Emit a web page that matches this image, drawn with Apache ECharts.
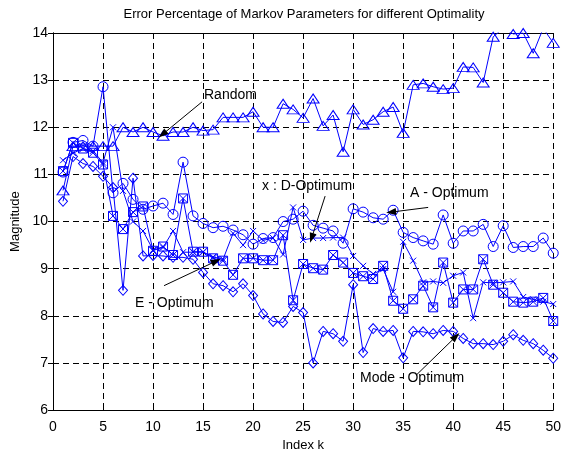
<!DOCTYPE html>
<html><head><meta charset="utf-8">
<script src="https://cdn.jsdelivr.net/npm/echarts@6/dist/echarts.min.js"></script>
<style>html,body{margin:0;padding:0;background:#fff}#c{width:564px;height:457px}</style>
</head><body><div id="c"></div>
<script>
const indexK = [1,2,3,4,5,6,7,8,9,10,11,12,13,14,15,16,17,18,19,20,21,22,23,24,25,26,27,28,29,30,31,32,33,34,35,36,37,38,39,40,41,42,43,44,45,46,47,48,49,50];
const randomVals = [10.66,11.6,11.6,11.6,11.6,11.6,12.0,11.9,12.0,11.9, 11.82,11.9,11.9,12.0,11.93,11.95,12.21,12.21,12.21,12.33, 12.0,12.0,12.5,12.38,12.2,12.61,12.03,12.26,11.48,12.38, 12.06,12.16,12.33,12.43,11.88,12.9,12.93,12.86,12.81,12.83, 13.28,13.27,12.95,13.92,14.1,13.98,14.0,13.57,14.1,13.79];
const aOptVals = [11.05,11.68,11.72,11.6,12.86,10.61,10.81,10.47,10.26,10.33, 10.39,10.15,11.26,10.12,9.96,9.87,9.9,9.82,9.72,9.52, 9.64,9.66,10.0,10.05,10.22,9.92,9.86,9.8,9.54,10.27, 10.2,10.08,10.05,10.24,9.77,9.66,9.59,9.52,10.14,9.54, 9.8,9.8,9.94,9.47,9.91,9.45,9.47,9.47,9.65,9.33];
const eOptVals = [11.07,11.67,11.55,11.46,11.21,10.12,9.84,10.2,10.32,9.38, 9.47,9.29,10.49,9.36,9.36,9.22,9.17,8.87,9.22,9.22, 9.18,9.18,9.71,8.33,9.1,9.01,8.98,9.29,9.13,8.91, 8.84,8.78,9.06,8.32,8.15,8.35,8.64,8.18,9.13,8.28, 8.56,8.56,9.2,8.66,8.49,8.3,8.28,8.3,8.38,7.89];
const dOptVals = [11.3,11.45,11.55,11.5,11.25,12.0,10.65,10.0,9.8,9.4, 9.45,9.8,9.35,9.35,9.35,9.25,9.2,9.75,9.5,9.8, 9.6,9.65,9.3,10.3,9.61,9.65,9.65,9.66,9.66,9.27, 9.06,8.89,8.99,8.51,9.57,9.17,8.71,8.73,8.7,8.85, 8.92,7.95,8.71,8.7,8.71,8.73,8.4,8.35,8.3,8.25];
const modeOptVals = [10.43,11.38,11.23,11.17,10.96,10.72,8.54,10.92,9.27,9.28, 9.27,9.24,9.24,9.2,8.92,8.68,8.64,8.51,8.68,8.43, 8.04,7.88,7.86,8.2,8.07,7.0,7.67,7.62,7.46,8.66, 7.22,7.73,7.67,7.69,7.11,7.67,7.66,7.62,7.69,7.67, 7.52,7.41,7.41,7.39,7.46,7.6,7.48,7.41,7.27,7.1];

const xTicks = {min:0, max:50, interval:5};
const yTicks = {min:6, max:14, interval:1};

const annotations = [
  {text:'Random', from:[14.9,12.54], to:[10.95,11.85], pos:[204,96]},
  {text:'x : D-Optimum', from:[27.2,10.54], to:[25.85,9.65], pos:[262,187]},
  {text:'A - Optimum', from:[37.5,10.3], to:[33.8,10.2], pos:[410,194]},
  {text:'E - Optimum', from:[11.1,8.64], to:[16.3,9.16], pos:[135,304]},
  {text:'Mode - Optimum', from:[36.3,6.74], to:[40.27,7.56], pos:[360,379]}
];

const BLUE = '#0000ff';
const FONT = '"Liberation Sans", Arial, sans-serif';
const pairs = v => v.map((y,i)=>[indexK[i], y]);

function mk(name, vals, symbol, size, extra){
  return Object.assign({
    name, type:'line', data:pairs(vals), symbol, symbolSize:size,
    showAllSymbol:true, clip:true, animation:false, z:3,
    lineStyle:{color:BLUE, width:1},
    itemStyle:{color:'rgba(0,0,0,0)', borderColor:BLUE, borderWidth:1},
    emphasis:{disabled:true}
  }, extra||{});
}

const chart = echarts.init(document.getElementById('c'));
const axisCommon = {
  type:'value',
  axisLine:{show:true, lineStyle:{color:'#000', width:1}},
  axisTick:{show:true, inside:true, length:5, lineStyle:{color:'#000'}},
  splitLine:{show:false}
};
chart.setOption({
  animation:false,
  backgroundColor:'#fff',
  grid:{left:53, right:8, top:33, bottom:46},
  xAxis:[
    Object.assign({}, axisCommon, xTicks, {position:'bottom', name:'Index k', nameLocation:'middle', nameGap:23,
      nameTextStyle:{fontFamily:FONT, fontSize:13, color:'#000'},
      axisLabel:{fontFamily:FONT, fontSize:14, color:'#000', margin:10},
      splitLine:{show:true, lineStyle:{color:'#000', type:[6,4], width:1}}}),
    Object.assign({}, axisCommon, xTicks, {position:'top', axisLabel:{show:false}})
  ],
  yAxis:[
    Object.assign({}, axisCommon, yTicks, {position:'left', name:'Magnitude', nameLocation:'middle', nameGap:25,
      nameTextStyle:{fontFamily:FONT, fontSize:13, color:'#000'},
      axisLabel:{fontFamily:FONT, fontSize:14, color:'#000', margin:5},
      splitLine:{show:true, lineStyle:{color:'#000', type:[6,4], width:1}}}),
    Object.assign({}, axisCommon, yTicks, {position:'right', axisLabel:{show:false}})
  ],
  series:[
    mk('Random', randomVals, 'triangle', [12,9], {
      markLine:{silent:true, symbol:['none','triangle'], symbolSize:[7,10], animation:false,
        label:{show:false}, lineStyle:{color:'#000', width:1, type:'solid'},
        itemStyle:{color:'#000'},
        emphasis:{disabled:true},
        data:annotations.map(a=>[{coord:a.from},{coord:a.to}])}
    }),
    mk('A-Optimum', aOptVals, 'circle', 10),
    mk('E-Optimum', eOptVals, 'path://M0,0L10,0L10,10L0,10ZM0,0L10,10M10,0L0,10', 9),
    mk('D-Optimum', dOptVals, 'path://M0,0L10,10M10,0L0,10', 6),
    mk('Mode-Optimum', modeOptVals, 'diamond', [9,10])
  ],
  graphic: [{type:'text', x:304, y:8, z:10,
      style:{text:'Error Percentage of Markov Parameters for different Optimality', font:'13px '+FONT, fill:'#000', align:'center'}}]
    .concat(annotations.map(a=>({type:'text', left:a.pos[0], top:a.pos[1]-8, z:10,
      style:{text:a.text, font:'14px '+FONT, fill:'#000'}})))
});
</script></body></html>
